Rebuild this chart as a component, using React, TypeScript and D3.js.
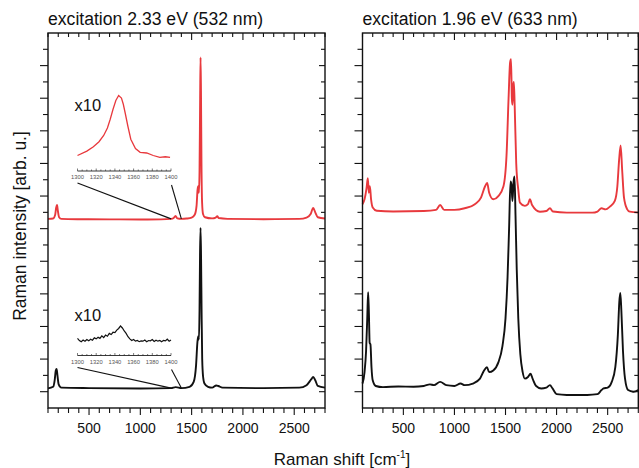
import React from "react";
import * as d3 from "d3";

// ---- data (Raman shift [cm-1], intensity in axis units) ----
const panelTitles = ["excitation 2.33 eV (532 nm)", "excitation 1.96 eV (633 nm)"];
const xTickLabels = [500, 1000, 1500, 2000, 2500];
const insetTickLabels = [1300, 1320, 1340, 1360, 1380, 1400];

const red532: [number, number][] = [
  [100, 11.6], [150, 11.62], [170, 11.85], [180, 12.3], [188, 12.45], [196, 12.1], [208, 11.7], [230, 11.6],
  [400, 11.58], [700, 11.57], [1000, 11.56], [1200, 11.57], [1300, 11.6], [1325, 11.65], [1343, 11.78],
  [1360, 11.63], [1400, 11.6], [1450, 11.62], [1500, 11.68], [1530, 11.85], [1548, 12.4], [1558, 13.4],
  [1565, 13.6], [1571, 13.2], [1577, 14.5], [1583, 19.0], [1587, 21.5], [1591, 19.5], [1596, 15.0],
  [1602, 12.6], [1611, 11.9], [1630, 11.7], [1700, 11.63], [1735, 11.68], [1750, 11.76], [1765, 11.65],
  [1850, 11.6], [2200, 11.58], [2550, 11.6], [2620, 11.68], [2660, 11.9], [2685, 12.27], [2705, 12.0],
  [2730, 11.7], [2800, 11.62],
];

const black532: [number, number][] = [
  [100, 1.2], [150, 1.3], [165, 1.7], [176, 2.3], [184, 2.4], [192, 2.0], [204, 1.45], [230, 1.25],
  [500, 1.22], [1000, 1.2], [1300, 1.22], [1345, 1.28], [1400, 1.22], [1480, 1.3], [1520, 1.6],
  [1543, 2.6], [1556, 4.0], [1564, 4.4], [1571, 4.2], [1577, 6.0], [1582, 9.5], [1587, 11.05],
  [1592, 9.2], [1597, 6.0], [1603, 3.0], [1612, 1.9], [1625, 1.5], [1660, 1.3], [1700, 1.25],
  [1740, 1.38], [1760, 1.35], [1800, 1.25], [2200, 1.22], [2550, 1.25], [2620, 1.4], [2665, 1.75],
  [2685, 1.9], [2705, 1.7], [2730, 1.35], [2800, 1.25],
];

const red633: [number, number][] = [
  [100, 12.5], [120, 12.8], [140, 13.5], [152, 14.1], [162, 13.2], [172, 13.6], [184, 12.8], [200, 12.3],
  [240, 12.1], [400, 12.05], [700, 12.08], [820, 12.15], [860, 12.45], [900, 12.15], [1000, 12.15],
  [1100, 12.25], [1200, 12.5], [1260, 12.9], [1300, 13.6], [1320, 13.8], [1340, 13.2], [1380, 12.8],
  [1430, 13.0], [1480, 13.6], [1510, 15.5], [1530, 19.0], [1545, 21.2], [1554, 21.4], [1562, 19.0],
  [1568, 18.6], [1576, 19.8], [1582, 20.0], [1590, 18.5], [1605, 15.0], [1625, 13.4], [1641, 12.6],
  [1690, 12.4], [1720, 12.5], [1739, 12.8], [1760, 12.45], [1837, 12.04], [1900, 12.08], [1935, 12.25],
  [1965, 12.05], [2100, 11.98], [2350, 11.98], [2400, 12.05], [2440, 12.25], [2480, 12.18], [2522, 12.35],
  [2570, 12.7], [2595, 13.6], [2612, 15.2], [2627, 16.1], [2642, 14.6], [2660, 12.9], [2690, 12.2],
  [2717, 12.04], [2800, 11.98],
];

const black633: [number, number][] = [
  [100, 1.5], [120, 2.2], [135, 3.5], [147, 5.6], [155, 7.1], [162, 6.0], [170, 4.0], [178, 3.9],
  [188, 2.5], [200, 1.7], [230, 1.35], [300, 1.28], [450, 1.32], [600, 1.3], [700, 1.35], [760, 1.45],
  [800, 1.4], [860, 1.6], [920, 1.4], [1000, 1.35], [1060, 1.5], [1100, 1.4], [1180, 1.5], [1250, 1.8],
  [1290, 2.3], [1318, 2.5], [1340, 2.2], [1380, 2.3], [1430, 2.8], [1470, 3.8], [1500, 5.5], [1520, 8.0],
  [1535, 11.0], [1549, 13.9], [1558, 13.7], [1568, 12.7], [1578, 13.8], [1588, 14.2], [1598, 11.8],
  [1610, 8.5], [1625, 5.5], [1645, 3.3], [1668, 2.2], [1690, 1.8], [1720, 1.9], [1745, 2.1], [1765, 1.8],
  [1800, 1.35], [1850, 1.2], [1900, 1.25], [1935, 1.4], [1960, 1.2], [2000, 0.85], [2100, 0.8],
  [2300, 0.8], [2400, 0.85], [2440, 1.1], [2460, 1.2], [2500, 1.25], [2540, 1.6], [2575, 2.5],
  [2600, 4.5], [2614, 6.5], [2624, 7.05], [2634, 6.0], [2650, 3.5], [2670, 1.8], [2700, 1.1],
  [2750, 1.0], [2800, 1.1],
];

// x10 insets (1300-1400 cm-1), relative intensity
const insetRed: [number, number][] = [
  [1300, 0.04], [1310, 0.11], [1317, 0.18], [1323, 0.26], [1328, 0.36], [1332, 0.48], [1335, 0.62],
  [1338, 0.78], [1341, 0.92], [1344, 1.0], [1347, 0.96], [1349, 0.86], [1351, 0.72], [1354, 0.5],
  [1357, 0.3], [1362, 0.15], [1367, 0.09], [1374, 0.08], [1381, 0.04], [1388, 0.01], [1394, 0.02], [1399, 0.01],
];

const insetBlack: [number, number][] = [
  [1300, 0.25], [1302, 0.12], [1304, 0.05], [1306, 0.15], [1308, 0.08], [1310, 0.18], [1312, 0.1],
  [1314, 0.2], [1316, 0.14], [1318, 0.28], [1320, 0.22], [1322, 0.32], [1324, 0.25], [1326, 0.4],
  [1328, 0.3], [1330, 0.45], [1332, 0.38], [1334, 0.55], [1336, 0.48], [1338, 0.62], [1340, 0.6],
  [1342, 0.75], [1344, 0.85], [1346, 1.0], [1348, 0.88], [1350, 0.7], [1352, 0.55], [1354, 0.35],
  [1356, 0.22], [1358, 0.12], [1360, 0.18], [1362, 0.08], [1364, 0.12], [1366, 0.05], [1368, 0.1],
  [1370, 0.08], [1372, 0.15], [1374, 0.05], [1376, 0.12], [1378, 0.1], [1380, 0.18], [1382, 0.06],
  [1384, 0.14], [1386, 0.08], [1388, 0.12], [1390, 0.04], [1392, 0.13], [1394, 0.1], [1396, 0.2],
  [1398, 0.08], [1400, 0.15],
];

const RED = "#e8393d";
const FONT = "'Liberation Sans', Arial, sans-serif";

const TOP = 33;
const BOTTOM = 408;
const yScale = d3.scaleLinear().domain([0, 23]).range([BOTTOM, TOP]);
const xTicks = d3.range(100, 2801, 100);
const yTicks = d3.range(1, 23);

function Panel({ x0, x1, title, red, black }: { x0: number; x1: number; title: string; red: [number, number][]; black: [number, number][] }) {
  const x = d3.scaleLinear().domain([100, 2800]).range([x0, x1]);
  const line = d3
    .line<[number, number]>()
    .x((d) => x(d[0]))
    .y((d) => yScale(d[1]))
    .curve(d3.curveMonotoneX);
  return (
    <g>
      <text x={x0} y={25} fontSize={17.6} fontFamily={FONT} fill="#111">
        {title}
      </text>
      <path d={line(red) || ""} fill="none" stroke={RED} strokeWidth={1.9} />
      <path d={line(black) || ""} fill="none" stroke="#111" strokeWidth={1.9} />
      {xTicks.map((t) => {
        const major = t % 500 === 0;
        const xx = x(t);
        return (
          <g key={"x" + t}>
            <line x1={xx} x2={xx} y1={BOTTOM} y2={BOTTOM + (major ? 7 : 5)} stroke="#111" strokeWidth={1.1} />
            <line x1={xx} x2={xx} y1={TOP} y2={TOP + (major ? 7 : 4)} stroke="#111" strokeWidth={1.1} />
          </g>
        );
      })}
      {yTicks.map((t) => {
        const major = t % 2 === 1;
        const yy = yScale(t);
        return (
          <g key={"y" + t}>
            <line x1={x0 - (major ? 8 : 5)} x2={x0} y1={yy} y2={yy} stroke="#111" strokeWidth={1.1} />
            <line x1={x1 - (major ? 6 : 4)} x2={x1} y1={yy} y2={yy} stroke="#111" strokeWidth={1.1} />
          </g>
        );
      })}
      {xTickLabels.map((t) => (
        <text key={"l" + t} x={x(t)} y={432.5} textAnchor="middle" fontSize={14} fontFamily={FONT} fill="#111">
          {t}
        </text>
      ))}
      <rect x={x0} y={TOP} width={x1 - x0} height={BOTTOM - TOP} fill="none" stroke="#111" strokeWidth={1.4} />
    </g>
  );
}

function Inset({ axisY, yTop, data, color, label, labelY, targetY, mainX }: {
  axisY: number; yTop: number; data: [number, number][]; color: string; label: string; labelY: number; targetY: number;
  mainX: d3.ScaleLinear<number, number>;
}) {
  const ix = d3.scaleLinear().domain([1300, 1400]).range([77.5, 171]);
  const iy = d3.scaleLinear().domain([0, 1]).range([axisY - 13, yTop]);
  const line = d3
    .line<[number, number]>()
    .x((d) => ix(d[0]))
    .y((d) => iy(d[1]));
  const minor = d3.range(1300, 1401, 5);
  return (
    <g>
      <text x={74.5} y={labelY} fontSize={16.5} fontFamily={FONT} fill="#111">
        {label}
      </text>
      <path d={line(data) || ""} fill="none" stroke={color} strokeWidth={color === RED ? 1.3 : 1.2} />
      <line x1={ix(1300)} x2={ix(1400)} y1={axisY} y2={axisY} stroke="#222" strokeWidth={0.9} />
      {minor.map((t) => (
        <line key={t} x1={ix(t)} x2={ix(t)} y1={axisY} y2={axisY - (t % 20 === 0 ? 2.5 : 1.5)} stroke="#222" strokeWidth={0.6} />
      ))}
      {insetTickLabels.map((t) => (
        <text key={"il" + t} x={ix(t)} y={axisY + 8.3} textAnchor="middle" fontSize={5.8} fontFamily={FONT} fill="#555">
          {t}
        </text>
      ))}
      <line x1={ix(1300)} y1={axisY + 12} x2={mainX(1300)} y2={targetY} stroke="#111" strokeWidth={1.1} />
      <line x1={ix(1400) + 0.5} y1={axisY + 14} x2={mainX(1400)} y2={targetY} stroke="#111" strokeWidth={1.1} />
    </g>
  );
}

export default function App() {
  const leftX = d3.scaleLinear().domain([100, 2800]).range([48, 325]);
  return (
    <svg width={639} height={468} style={{ position: "absolute", left: 0, top: 0, background: "#fff" }}>
      <rect x={0} y={0} width={639} height={468} fill="#fff" />
      <Panel x0={48} x1={325} title={panelTitles[0]} red={red532} black={black532} />
      <Panel x0={362.5} x1={638.3} title={panelTitles[1]} red={red633} black={black633} />
      <Inset axisY={171} yTop={95.5} data={insetRed} color={RED} label="x10" labelY={110.7} targetY={yScale(11.6)} mainX={leftX} />
      <Inset axisY={355.5} yTop={326} data={insetBlack} color="#111" label="x10" labelY={321} targetY={yScale(1.22)} mainX={leftX} />
      <text x={342} y={465} textAnchor="middle" fontSize={17} fontFamily={FONT} fill="#111">
        Raman shift [cm
        <tspan fontSize={10} dy={-7}>-1</tspan>
        <tspan dy={7}>]</tspan>
      </text>
      <text transform="translate(26,226) rotate(-90)" textAnchor="middle" fontSize={17.5} fontFamily={FONT} fill="#111">
        Raman intensity [arb. u.]
      </text>
    </svg>
  );
}
